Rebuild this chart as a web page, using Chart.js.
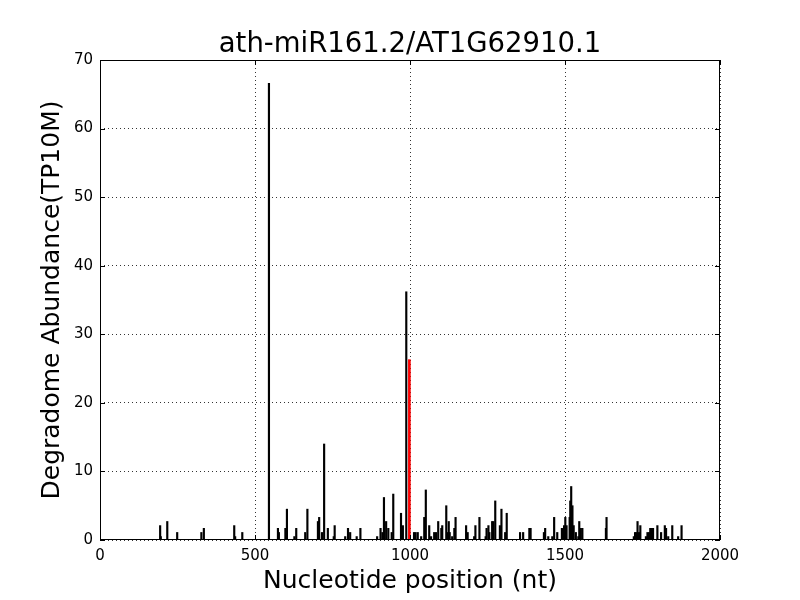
<!DOCTYPE html>
<html>
<head>
<meta charset="utf-8">
<title>ath-miR161.2/AT1G62910.1</title>
<script src="https://cdn.jsdelivr.net/npm/chart.js@4/dist/chart.umd.min.js"></script>
<style>
  html, body { margin: 0; padding: 0; background: #fff; }
  #wrap { width: 800px; height: 600px; }
</style>
</head>
<body>
<div id="wrap"><canvas id="degradomeChart" width="800" height="600"></canvas></div>
<script>
// --- 1. Data ---
const chartTitle = 'ath-miR161.2/AT1G62910.1';
const xTitle = 'Nucleotide position (nt)';
const yTitle = 'Degradome Abundance(TP10M)';

const xTickStep = 500;   // 0, 500, 1000, 1500, 2000
const yTickStep = 10;    // 0 .. 70

// all degradome tags along the transcript
const positions = [
    194, 196, 217, 249, 327, 335, 433, 436, 459, 545,
    574, 577, 598, 603, 627, 633, 662, 669, 703, 707,
    716, 723, 735, 754, 757, 791, 800, 807, 828, 840,
    894, 905, 911, 916, 923, 930, 941, 946, 971, 977,
    988, 1013, 1018, 1025, 1036, 1046, 1051, 1062, 1068, 1078,
    1084, 1091, 1101, 1104, 1117, 1120, 1125, 1128, 1136, 1143,
    1147, 1181, 1186, 1207, 1211, 1224, 1244, 1247, 1253, 1256,
    1265, 1269, 1275, 1290, 1295, 1307, 1312, 1355, 1365, 1385,
    1389, 1432, 1436, 1446, 1459, 1465, 1475, 1490, 1497, 1501,
    1505, 1515, 1517, 1520, 1524, 1528, 1535, 1543, 1546, 1551,
    1556, 1632, 1634, 1722, 1726, 1730, 1734, 1739, 1743, 1761,
    1766, 1771, 1775, 1780, 1784, 1798, 1810, 1822, 1826, 1833,
    1846, 1865, 1876
];
const abundance = [
    2.1, 0.5, 2.7, 1.1, 1.1, 1.7, 2.1, 0.5, 1.1, 66.6,
    1.7, 1.1, 1.7, 4.5, 0.5, 1.7, 1.1, 4.5, 2.7, 3.3,
    1.1, 14.0, 1.7, 0.5, 2.1, 0.5, 1.7, 1.1, 0.5, 1.7,
    0.5, 1.7, 1.1, 6.2, 2.7, 1.7, 1.1, 6.7, 3.9, 2.1,
    36.2, 1.1, 1.1, 1.1, 0.5, 3.3, 7.3, 2.1, 0.5, 1.1,
    1.1, 2.7, 1.7, 2.1, 5.0, 1.1, 2.7, 1.1, 0.5, 1.7,
    3.3, 2.1, 1.1, 0.5, 2.1, 3.3, 0.5, 1.7, 2.1, 1.1,
    2.7, 2.7, 5.7, 2.1, 4.5, 1.1, 3.9, 1.1, 1.1, 1.7,
    1.7, 1.1, 1.7, 0.5, 0.5, 3.3, 1.1, 1.7, 2.1, 3.3,
    2.1, 3.3, 5.7, 7.8, 5.0, 2.1, 1.1, 0.5, 2.7, 1.7,
    1.7, 1.7, 3.3, 0.5, 1.1, 1.1, 2.7, 1.1, 2.1, 0.5,
    1.1, 1.1, 1.7, 1.7, 1.7, 2.1, 1.1, 2.1, 1.7, 0.5,
    2.1, 0.5, 2.1
];

// predicted miRNA cleavage site (red)
const sitePositions = [998];
const siteAbundance = [26.3];

document.addEventListener('DOMContentLoaded', () => {
    const ctx = document.getElementById('degradomeChart').getContext('2d');

    // --- 2. Frame + inward tick marks, matplotlib style ---
    const frameTicks = {
        id: 'frameTicks',
        afterDraw(chart) {
            const { ctx, chartArea: a, scales: { x, y } } = chart;
            const len = 5;
            ctx.save();
            ctx.strokeStyle = '#000';
            ctx.lineWidth = 1;
            ctx.beginPath();
            x.ticks.forEach(t => {
                const px = Math.round(x.getPixelForValue(t.value)) + 0.5;
                ctx.moveTo(px, a.bottom); ctx.lineTo(px, a.bottom - len);
                ctx.moveTo(px, a.top); ctx.lineTo(px, a.top + len);
            });
            y.ticks.forEach(t => {
                const py = Math.round(y.getPixelForValue(t.value)) + 0.5;
                ctx.moveTo(a.left, py); ctx.lineTo(a.left + len, py);
                ctx.moveTo(a.right, py); ctx.lineTo(a.right - len, py);
            });
            ctx.stroke();
            ctx.strokeRect(Math.round(a.left) + 0.5, Math.round(a.top) + 0.5,
                Math.round(a.width) - 1, Math.round(a.height) - 1);
            ctx.restore();
        }
    };

    const toPoints = (xs, ys) => xs.map((p, i) => ({ x: p, y: ys[i] }));

    // --- 3. Chart ---
    new Chart(ctx, {
        type: 'bar',
        data: {
            datasets: [
                {
                    label: 'tags',
                    data: toPoints(positions, abundance),
                    backgroundColor: '#000',
                    borderWidth: 0,
                    barThickness: 1.5,
                    grouped: false,
                    order: 2
                },
                {
                    label: 'cleavage site',
                    data: toPoints(sitePositions, siteAbundance),
                    backgroundColor: '#ff0000',
                    borderWidth: 0,
                    barThickness: 2,
                    grouped: false,
                    order: 1
                }
            ]
        },
        options: {
            responsive: false,
            animation: false,
            layout: { padding: { left: 0, right: 80, top: 0, bottom: 0 } },
            plugins: {
                legend: { display: false },
                tooltip: { enabled: false },
                title: {
                    display: true,
                    fullSize: false,   // centre over the plot area, not the canvas
                    text: chartTitle,
                    color: '#000',
                    font: { family: 'DejaVu Sans', size: 27.5, weight: 'normal', lineHeight: 1.0 },
                    padding: { top: 31, bottom: 1.5 }
                }
            },
            scales: {
                x: {
                    type: 'linear',
                    min: 0, max: 2000,
                    offset: false,
                    afterFit: scale => { scale.height = 60; },
                    ticks: {
                        stepSize: xTickStep,
                        autoSkip: false, maxRotation: 0, padding: 7, color: '#000',
                        font: { family: 'DejaVu Sans', size: 15 },
                        callback: v => String(v)
                    },
                    // bar charts shift x grid lines by half a slot by default
                    grid: { color: '#000', lineWidth: 0.8, drawTicks: false, offset: false },
                    border: { display: false, dash: [1, 3] },
                    title: {
                        display: true, text: xTitle, color: '#000',
                        font: { family: 'DejaVu Sans', size: 25 },
                        padding: { top: 0, bottom: 4 }
                    }
                },
                y: {
                    min: 0, max: 70,
                    afterFit: scale => { scale.width = 100; },
                    ticks: {
                        stepSize: yTickStep,
                        padding: 7, color: '#000',
                        font: { family: 'DejaVu Sans', size: 15 },
                        callback: v => String(v)
                    },
                    grid: { color: '#000', lineWidth: 0.8, drawTicks: false },
                    border: { display: false, dash: [1, 3] },
                    title: {
                        display: true, text: yTitle, color: '#000',
                        font: { family: 'DejaVu Sans', size: 25 },
                        padding: { top: 37, bottom: 0 }
                    }
                }
            }
        },
        plugins: [frameTicks]
    });
});
</script>
</body>
</html>
